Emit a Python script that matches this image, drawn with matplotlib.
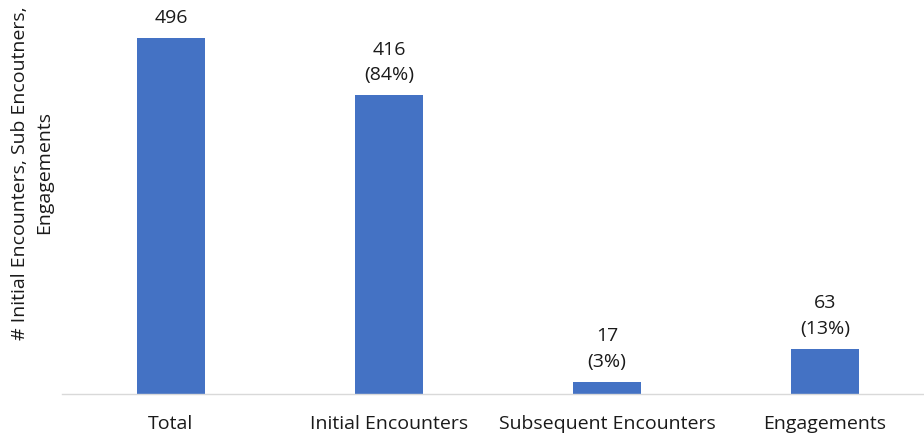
import matplotlib.pyplot as plt

categories = ["Total", "Initial Encounters", "Subsequent Encounters", "Engagements"]
counts = [496, 416, 17, 63]
shares = [None, "84%", "3%", "13%"]

BAR_COLOR = "#4472C4"
TEXT_COLOR = "#1a1a1a"

plt.rcParams["font.family"] = ["Open Sans", "DejaVu Sans"]

fig = plt.figure(figsize=(9.24, 4.37), dpi=100)
ax = fig.add_axes([62 / 924, 43 / 437, 862 / 924, 394 / 437])

x = list(range(len(categories)))
ax.bar(x, counts, width=0.31, color=BAR_COLOR)

# value labels, with the share on a second line where there is one
for xi, n, s in zip(x, counts, shares):
    label = f"{n}" if s is None else f"{n}\n({s})"
    ax.annotate(label, (xi, n), xytext=(0, 8), textcoords="offset points",
                ha="center", va="bottom", fontsize=14, color=TEXT_COLOR,
                linespacing=1.55)

ax.set_xlim(-0.5, (924 - 62) / 218 - 0.5)
ax.set_ylim(0, 394 / 0.718)
ax.set_xticks(x)
ax.set_xticklabels(categories, fontsize=14, color=TEXT_COLOR)
ax.tick_params(axis="x", length=0, pad=15)
ax.set_yticks([])

for name in ("top", "right", "left"):
    ax.spines[name].set_visible(False)
ax.spines["bottom"].set_color("#D9D9D9")
ax.spines["bottom"].set_linewidth(1.0)

fig.text(32 / 924, 1 - 173 / 437,
         "# Initial Encounters, Sub Encoutners,\nEngagements",
         rotation=90, ha="center", va="center", multialignment="center",
         fontsize=14, color=TEXT_COLOR, linespacing=1.45)

fig.savefig("out.png", dpi=100)
